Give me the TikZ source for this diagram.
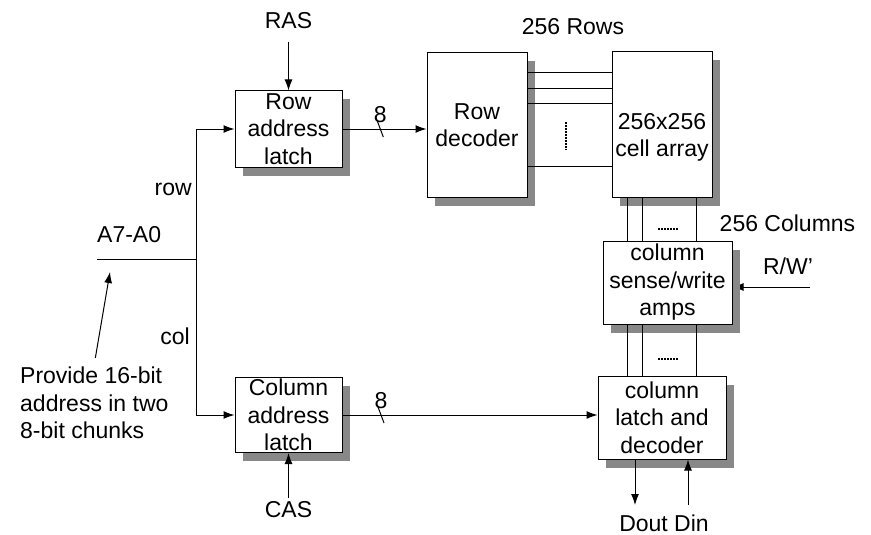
\documentclass[tikz,border=0pt]{standalone}
\usepackage{fontspec}
\setmainfont{Liberation Sans}
\usetikzlibrary{arrows.meta,backgrounds}

\definecolor{shadowgray}{RGB}{136,136,136}

\tikzset{
  blockbox/.style={draw, fill=white, line width=1pt, inner sep=0pt, align=center,
    preaction={fill=shadowgray, transform canvas={xshift=8pt, yshift=-8.5pt}}},
  sig/.style={line width=1pt, -{Latex[length=11pt,width=8pt]}},
  wire/.style={line width=1pt},
  dotline/.style={line width=1.3pt, dash pattern=on 2pt off 1pt}
}

\begin{document}
\begin{tikzpicture}[x=1pt, y=-1pt, font=\fontsize{23}{27.5}\selectfont]
    \useasboundingbox (0,0) rectangle (871,535);

    % Latches, decoder, array and amps
    \node[blockbox, minimum width=107pt, minimum height=76pt] (rowlatch) at (288.5,129) {Row\\address\\latch};
    \node[blockbox, minimum width=107pt, minimum height=75pt] (collatch) at (288.5,415) {Column\\address\\latch};
    \node[blockbox, minimum width=100pt, minimum height=144pt] (rowdec) at (477,125) {Row\\decoder};
    \node[blockbox, minimum width=100pt, minimum height=145pt] (cells) at (662,124.5) {};
    \node[align=center, inner sep=0pt] (celltext) at ([yshift=-13pt]cells.center) {256x256\\cell array};
    \node[blockbox, minimum width=129pt, minimum height=83pt] (senseamp) at (667.5,282.5) {column\\sense/write\\amps};
    \node[blockbox, minimum width=128pt, minimum height=83pt] (coldec) at (662,417.5) {column\\latch and\\decoder};

    % Labels
    \node (ras) at (288.5,21) {RAS};
    \node (cas) at (288.5,510) {CAS};
    \node (rows) at (573,27) {256 Rows};
    \node (cols) at (787.5,223) {256 Columns};
    \node (rw) at (788,266) {R/W'};
    \node (dio) at (664,523) {Dout Din};
    \node[anchor=west, inner sep=0pt] (addr) at (97,235) {A7-A0};
    \node[anchor=east, inner sep=0pt] (rowlbl) at (192,189) {row};
    \node[anchor=east, inner sep=0pt] (collbl) at (190,336) {col};
    \node[anchor=west, align=left, inner sep=0pt] (provide) at (20,403) {Provide 16-bit\\address in two\\8-bit chunks};

    % Address bus
    \coordinate (abus) at (97,259);
    \coordinate (split) at (196,259);
    \draw[wire] (abus) -- (split);
    \draw[sig] (split) |- (rowlatch.west);
    \draw[sig] (split) |- (collatch.west);
    \coordinate (abustip) at (110,272);
    \draw[sig] ([xshift=1pt,yshift=9pt]provide.north) -- (abustip);

    % Strobes
    \draw[sig, shorten <=9pt] (ras.south) -- (rowlatch.north);
    \draw[sig] (cas.north) -- (collatch.south);

    % 8-bit buses with tick marks
    \draw[sig] (rowlatch.east) -- coordinate[pos=0.45] (rtick) (rowlatch.east -| rowdec.west);
    \draw[wire] (rtick) ++(-3,-8) -- ++(6,16);
    \node[above=6pt, inner sep=0pt] at (rtick) {8};
    \draw[sig] (collatch.east) -- coordinate[pos=0.151] (ctick) (collatch.east -| coldec.west);
    \draw[wire] (ctick) ++(-3,-8) -- ++(6,16);
    \node[above=6pt, inner sep=0pt] at (ctick) {8};

    % Row lines
    \foreach \y in {73,89,104,166}{
        \draw[wire] (rowdec.east |- 0,\y) -- (cells.west |- 0,\y);
    }
    \draw[dotline] (566,122) -- (566,150);

    % Column lines
    \foreach \x in {627,642,696}{
        \draw[wire] (cells.south -| \x,0) -- (senseamp.north -| \x,0);
        \draw[wire] (senseamp.south -| \x,0) -- (coldec.north -| \x,0);
    }
    \draw[dotline] (658,229) -- (679,229);
    \draw[dotline] (658,359) -- (679,359);

    % Read/write control, under the shadow
    \coordinate (rwend) at (810,287);
    \begin{pgfonlayer}{background}
        \draw[sig] (rwend) -- (rwend -| senseamp.east);
    \end{pgfonlayer}

    % Data in and out
    \coordinate (doutend) at (635,505);
    \coordinate (dinend) at (688,505);
    \draw[sig] (coldec.south -| doutend) -- (doutend);
    \draw[sig] (dinend) -- (coldec.south -| dinend);
\end{tikzpicture}
\end{document}
